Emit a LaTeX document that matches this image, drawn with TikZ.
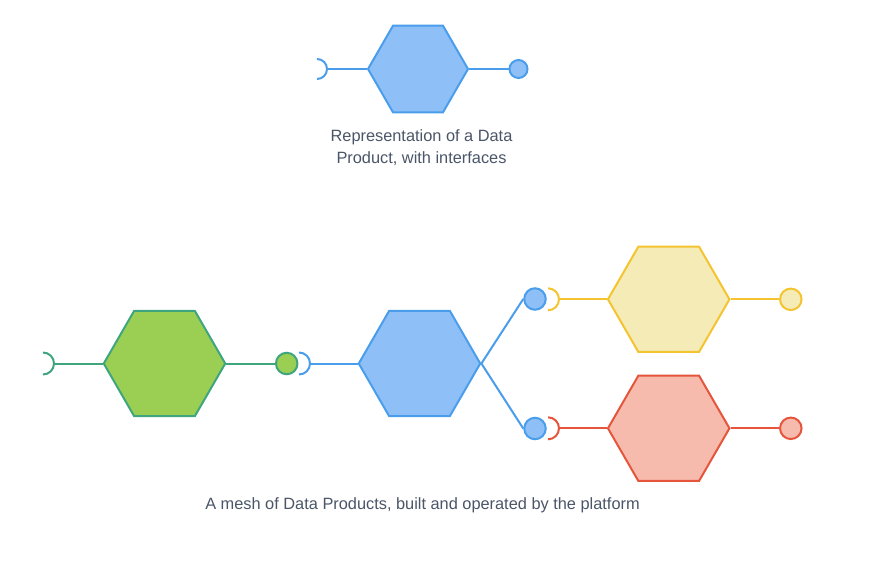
\documentclass[tikz,border=0pt]{standalone}
\usepackage{fontspec}
\setmainfont{Liberation Sans}
\usetikzlibrary{shapes.geometric}
\definecolor{bluefill}{HTML}{8EC0F7}
\definecolor{bluestroke}{HTML}{4A9DEB}
\definecolor{greenfill}{HTML}{9BCF53}
\definecolor{greenstroke}{HTML}{3FA57E}
\definecolor{yellowfill}{HTML}{F5EBB7}
\definecolor{yellowstroke}{HTML}{F4C430}
\definecolor{redfill}{HTML}{F7BBAE}
\definecolor{redstroke}{HTML}{E5553B}
\definecolor{textcol}{HTML}{4A5568}
\tikzset{
  hexa/.style={regular polygon, regular polygon sides=6, inner sep=0pt, minimum size=121.5pt, line width=2pt},
  smallhexa/.style={hexa, minimum size=100pt},
  port/.style={circle, inner sep=0pt, minimum size=21.5pt, line width=2pt},
  smallport/.style={port, minimum size=18pt},
  wire/.style={line width=2pt},
  caption/.style={text=textcol, font=\fontsize{16.35}{22}\selectfont, align=center, inner sep=0pt},
}
\begin{document}
\begin{tikzpicture}[x=1pt, y=-1pt]
\useasboundingbox (0,0) rectangle (870,579);
% ---- top: single data product
\node[smallhexa, draw=bluestroke, fill=bluefill] (th) at (418,69) {};
\node[smallport, draw=bluestroke, fill=bluefill] (tp) at (518.5,69) {};
\coordinate (ts) at (317,69);
\coordinate (tst) at (327,69);
\draw[wire, bluestroke] (ts) ++(0,10) arc(90:-90:10);
\draw[wire, bluestroke] (tst) -- (th.west);
\draw[wire, bluestroke] (th.east) -- (tp.west);
\node[caption, anchor=base] (tcap) at (421.5,163) {Representation of a Data\\Product, with interfaces};
% ---- bottom: mesh
% green
\node[hexa, draw=greenstroke, fill=greenfill] (gh) at (164.5,363.5) {};
\node[port, draw=greenstroke, fill=greenfill] (gp) at (286.7,363.5) {};
\coordinate (gs) at (43,363.5);
\coordinate (gst) at (54,363.5);
\draw[wire, greenstroke] (gs) ++(0,11) arc(90:-90:11);
\draw[wire, greenstroke] (gst) -- (gh.west);
\draw[wire, greenstroke] (gh.east) -- (gp.west);
% blue
\node[hexa, draw=bluestroke, fill=bluefill] (bh) at (419.5,363.5) {};
\coordinate (bs) at (299,363.5);
\coordinate (bst) at (310,363.5);
\draw[wire, bluestroke] (bs) ++(0,11) arc(90:-90:11);
\draw[wire, bluestroke] (bst) -- (bh.west);
\node[port, draw=bluestroke, fill=bluefill] (bp1) at (535,299) {};
\node[port, draw=bluestroke, fill=bluefill] (bp2) at (535,428.5) {};
\draw[wire, bluestroke] (bh.east) -- (bp1.west);
\draw[wire, bluestroke] (bh.east) -- (bp2.west);
% yellow
\node[hexa, draw=yellowstroke, fill=yellowfill] (yh) at (668.7,299.3) {};
\node[port, draw=yellowstroke, fill=yellowfill] (yp) at (790.8,299.3) {};
\coordinate (ys) at (548,299.3);
\coordinate (yst) at (559,299.3);
\draw[wire, yellowstroke] (ys) ++(0,11) arc(90:-90:11);
\draw[wire, yellowstroke] (yst) -- (yh.west);
\draw[wire, yellowstroke] (yh.east) -- (yp.west);
% red
\node[hexa, draw=redstroke, fill=redfill] (rh) at (668.7,428.3) {};
\node[port, draw=redstroke, fill=redfill] (rp) at (790.8,428.3) {};
\coordinate (rs) at (548,428.3);
\coordinate (rst) at (559,428.3);
\draw[wire, redstroke] (rs) ++(0,11) arc(90:-90:11);
\draw[wire, redstroke] (rst) -- (rh.west);
\draw[wire, redstroke] (rh.east) -- (rp.west);
\node[caption, anchor=base] (bcap) at (422.5,509.5) {A mesh of Data Products, built and operated by the platform};
\end{tikzpicture}
\end{document}
